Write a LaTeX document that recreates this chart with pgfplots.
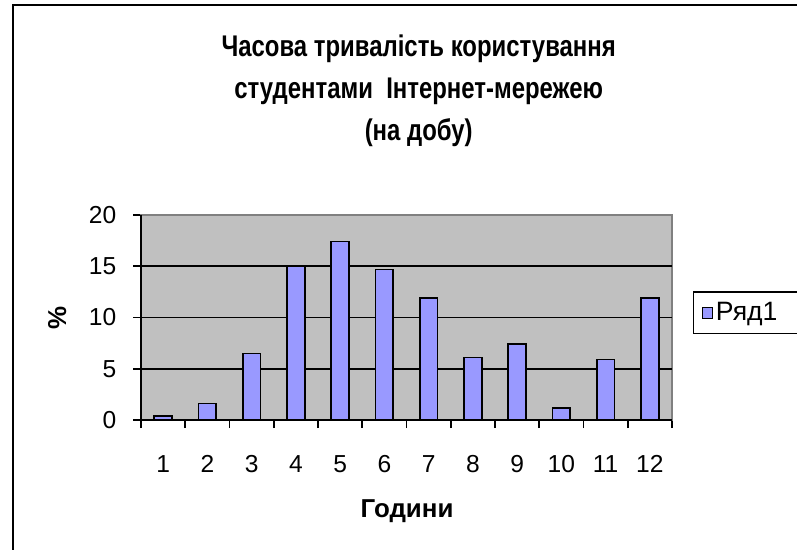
\documentclass[border=0pt]{standalone}
\usepackage{fontspec}
\setmainfont{Liberation Sans}
\newfontfamily\titlefont{Liberation Sans}[FakeStretch=0.8]
\usepackage{pgfplots}
\pgfplotsset{compat=1.18}
\definecolor{plotgray}{HTML}{C0C0C0}
\definecolor{barblue}{HTML}{9999FF}
\definecolor{framegray}{HTML}{808080}

\begin{document}
\begin{tikzpicture}
\path[use as bounding box] (0,0) rectangle (597.75bp,412.5bp);
% chart frame (only top and left edges are visible)
\draw[line width=1.6bp] (9.75bp,0) -- (9.75bp,408.75bp) -- (600bp,408.75bp);

\begin{axis}[
    at={(105.75bp,97.5bp)}, anchor=south west,
    scale only axis,
    width=398.25bp, height=153.75bp,
    xmin=0.5, xmax=12.5,
    ymin=0, ymax=20,
    axis background/.style={fill=plotgray},
    axis line style={draw=framegray, line width=0.8bp},
    xtick={1,...,12},
    minor xtick={0.5,1.5,...,12.5},
    ytick={0,5,10,15,20},
    extra y ticks={5,10,15},
    extra y tick labels={},
    extra y tick style={grid=major, major tick length=0pt},
    grid style={black, line width=1.4bp},
    tick align=outside,
    major tick length=6bp,
    minor tick length=6bp,
    x tick style={draw=none},
    minor x tick style={draw=black, line width=1.2bp},
    y tick style={black, line width=1.2bp},
    xtick pos=bottom, ytick pos=left,
    /pgf/number format/assume math mode=true,
    tick label style={font=\fontsize{18.5}{22}\selectfont},
    yticklabel style={xshift=-9bp},
    xticklabel style={yshift=-17bp},
    xlabel={Години},
    ylabel={\%},
    xlabel style={font=\fontsize{19.5}{22}\selectfont\bfseries, at={(axis description cs:0.501,-0.445)}, anchor=center},
    ylabel style={font=\fontsize{19.5}{22}\selectfont\bfseries, at={(axis description cs:-0.158,0.498)}, anchor=center},
    legend style={at={(axis description cs:1.0395,0.627)}, anchor=north west,
        draw=black, line width=0.8bp, font=\fontsize{20}{23}\selectfont,
        inner xsep=6bp, inner ysep=6bp},
    legend image code/.code={\draw[#1, line width=0.8bp] (0bp,-4bp) rectangle (8bp,4bp);},
    clip=false,
]
\addplot[ybar, bar width=13.3bp, fill=barblue, draw=black, line width=1.2bp]
coordinates {
(1,0.4) (2,1.6) (3,6.5) (4,15.0) (5,17.4) (6,14.7)
(7,11.9) (8,6.1) (9,7.4) (10,1.2) (11,5.9) (12,11.9)
};
\addlegendentry{Ряд1\hspace*{30bp}}
\draw[black, line width=1.2bp] (rel axis cs:0,1) -- (rel axis cs:0,0) -- (rel axis cs:1,0);
\end{axis}

\begin{scope}[every node/.style={font=\titlefont\fontsize{22.5}{26}\selectfont\bfseries, anchor=base}]
\node at (314bp,369.75bp) {Часова тривалість користування};
\node at (314bp,338.25bp) {студентами\ \ Інтернет-мережею};
\node at (314bp,306.75bp) {(на добу)};
\end{scope}
\end{tikzpicture}
\end{document}
